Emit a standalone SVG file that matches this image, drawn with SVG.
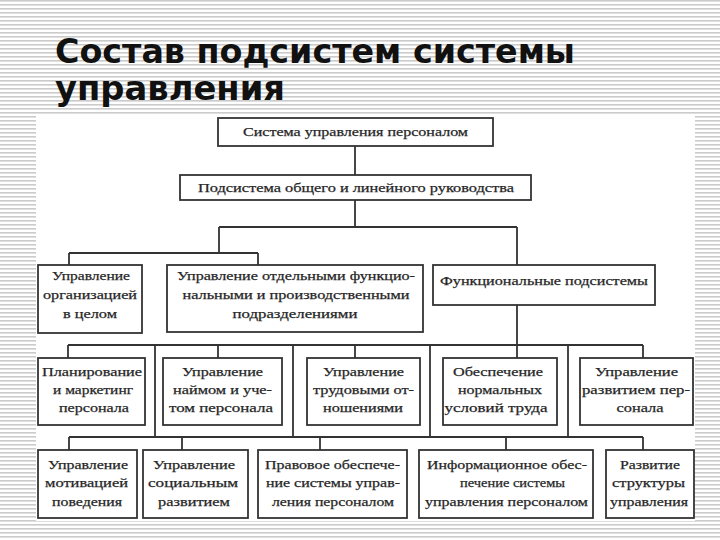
<svg xmlns="http://www.w3.org/2000/svg" width="720" height="540" viewBox="0 0 720 540">
<defs>
<pattern id="stripes" width="4" height="4" patternUnits="userSpaceOnUse">
<rect width="4" height="4" fill="#ffffff"/>
<rect y="0" width="4" height="1.6" fill="#cbcbcb"/>
</pattern>
</defs>
<style>
.box{fill:#ffffff;stroke:#333333;stroke-width:1.8}
.t{font-family:"Liberation Serif","Times New Roman",serif;font-size:13.5px;fill:#262626;stroke:#262626;stroke-width:0.25;text-anchor:middle}
.c{fill:none;stroke:#333333;stroke-width:1.8}
.title{font-family:"DejaVu Sans","Verdana",sans-serif;font-weight:bold;font-size:33px;fill:#111111}
</style>
<rect width="720" height="540" fill="url(#stripes)"/>
<rect x="36" y="115" width="659" height="406" fill="#ffffff"/>
<g id="title">
<text class="title" x="55" y="63" textLength="520" lengthAdjust="spacingAndGlyphs">Состав подсистем системы</text>
<text class="title" x="55" y="100" textLength="230" lengthAdjust="spacingAndGlyphs">управления</text>
</g>
<g id="connectors">
<path class="c" d="M355,146V175"/>
<path class="c" d="M355,200V227M219,227H517M219,227V253M69,253H258M69,253V265M258,253V265M517,227V265"/>
<path class="c" d="M517,305V358M68,345H643M68,345V358M218,345V358M355,345V358M643,345V358"/>
<path class="c" d="M155,345V437M293,345V437M430,345V437M568,345V437M69,437H643M69,437V450M182,437V450M320,437V450M506,437V450M643,437V450"/>
</g>
<g id="n1"><rect class="box" x="218" y="118" width="275" height="28"/>
<text class="t" x="355.5" y="136" textLength="225" lengthAdjust="spacingAndGlyphs">Система управления персоналом</text></g>
<g id="n2"><rect class="box" x="180" y="175" width="351" height="25"/>
<text class="t" x="356" y="192" textLength="316" lengthAdjust="spacingAndGlyphs">Подсистема общего и линейного руководства</text></g>
<g id="n3"><rect class="box" x="38" y="265" width="104" height="68"/>
<text class="t" x="91" y="280" textLength="78" lengthAdjust="spacingAndGlyphs">Управление</text>
<text class="t" x="90" y="299" textLength="94" lengthAdjust="spacingAndGlyphs">организацией</text>
<text class="t" x="90" y="318" textLength="54" lengthAdjust="spacingAndGlyphs">в целом</text></g>
<g id="n4"><rect class="box" x="167" y="265" width="256" height="67"/>
<text class="t" x="296" y="280" textLength="238" lengthAdjust="spacingAndGlyphs">Управление отдельными функцио-</text>
<text class="t" x="296" y="299" textLength="227" lengthAdjust="spacingAndGlyphs">нальными и производственными</text>
<text class="t" x="295" y="318" textLength="125" lengthAdjust="spacingAndGlyphs">подразделениями</text></g>
<g id="n5"><rect class="box" x="433" y="265" width="222" height="40"/>
<text class="t" x="544" y="285" textLength="208" lengthAdjust="spacingAndGlyphs">Функциональные подсистемы</text></g>
<g id="n6"><rect class="box" x="38" y="358" width="107" height="67"/>
<text class="t" x="92" y="376" textLength="100" lengthAdjust="spacingAndGlyphs">Планирование</text>
<text class="t" x="93" y="394" textLength="80" lengthAdjust="spacingAndGlyphs">и маркетинг</text>
<text class="t" x="94" y="412" textLength="70" lengthAdjust="spacingAndGlyphs">персонала</text></g>
<g id="n7"><rect class="box" x="163" y="358" width="119" height="67"/>
<text class="t" x="222.5" y="376" textLength="81" lengthAdjust="spacingAndGlyphs">Управление</text>
<text class="t" x="222.5" y="394" textLength="99" lengthAdjust="spacingAndGlyphs">наймом и уче-</text>
<text class="t" x="221" y="412" textLength="104" lengthAdjust="spacingAndGlyphs">том персонала</text></g>
<g id="n8"><rect class="box" x="307" y="358" width="113" height="67"/>
<text class="t" x="363.5" y="376" textLength="81" lengthAdjust="spacingAndGlyphs">Управление</text>
<text class="t" x="363.5" y="394" textLength="101" lengthAdjust="spacingAndGlyphs">трудовыми от-</text>
<text class="t" x="363" y="412" textLength="80" lengthAdjust="spacingAndGlyphs">ношениями</text></g>
<g id="n9"><rect class="box" x="443" y="358" width="114" height="67"/>
<text class="t" x="498" y="376" textLength="90" lengthAdjust="spacingAndGlyphs">Обеспечение</text>
<text class="t" x="500" y="394" textLength="84" lengthAdjust="spacingAndGlyphs">нормальных</text>
<text class="t" x="496" y="412" textLength="103" lengthAdjust="spacingAndGlyphs">условий труда</text></g>
<g id="n10"><rect class="box" x="580" y="358" width="113" height="67"/>
<text class="t" x="636.5" y="376" textLength="83" lengthAdjust="spacingAndGlyphs">Управление</text>
<text class="t" x="636" y="394" textLength="108" lengthAdjust="spacingAndGlyphs">развитием пер-</text>
<text class="t" x="640" y="412" textLength="47" lengthAdjust="spacingAndGlyphs">сонала</text></g>
<g id="n11"><rect class="box" x="38" y="450" width="99" height="68"/>
<text class="t" x="88" y="469" textLength="80" lengthAdjust="spacingAndGlyphs">Управление</text>
<text class="t" x="86.5" y="487" textLength="83" lengthAdjust="spacingAndGlyphs">мотивацией</text>
<text class="t" x="87" y="506" textLength="70" lengthAdjust="spacingAndGlyphs">поведения</text></g>
<g id="n12"><rect class="box" x="143" y="450" width="105" height="68"/>
<text class="t" x="194" y="469" textLength="82" lengthAdjust="spacingAndGlyphs">Управление</text>
<text class="t" x="193" y="487" textLength="90" lengthAdjust="spacingAndGlyphs">социальным</text>
<text class="t" x="194" y="506" textLength="72" lengthAdjust="spacingAndGlyphs">развитием</text></g>
<g id="n13"><rect class="box" x="258" y="450" width="149" height="68"/>
<text class="t" x="332.5" y="469" textLength="135" lengthAdjust="spacingAndGlyphs">Правовое обеспече-</text>
<text class="t" x="333" y="487" textLength="134" lengthAdjust="spacingAndGlyphs">ние системы управ-</text>
<text class="t" x="333" y="506" textLength="122" lengthAdjust="spacingAndGlyphs">ления персоналом</text></g>
<g id="n14"><rect class="box" x="419" y="450" width="174" height="68"/>
<text class="t" x="507" y="469" textLength="160" lengthAdjust="spacingAndGlyphs">Информационное обес-</text>
<text class="t" x="512.5" y="487" textLength="105" lengthAdjust="spacingAndGlyphs">печение системы</text>
<text class="t" x="506.5" y="506" textLength="163" lengthAdjust="spacingAndGlyphs">управления персоналом</text></g>
<g id="n15"><rect class="box" x="606" y="450" width="88" height="68"/>
<text class="t" x="650" y="469" textLength="60" lengthAdjust="spacingAndGlyphs">Развитие</text>
<text class="t" x="648.5" y="487" textLength="73" lengthAdjust="spacingAndGlyphs">структуры</text>
<text class="t" x="649" y="506" textLength="78" lengthAdjust="spacingAndGlyphs">управления</text></g>
</svg>
